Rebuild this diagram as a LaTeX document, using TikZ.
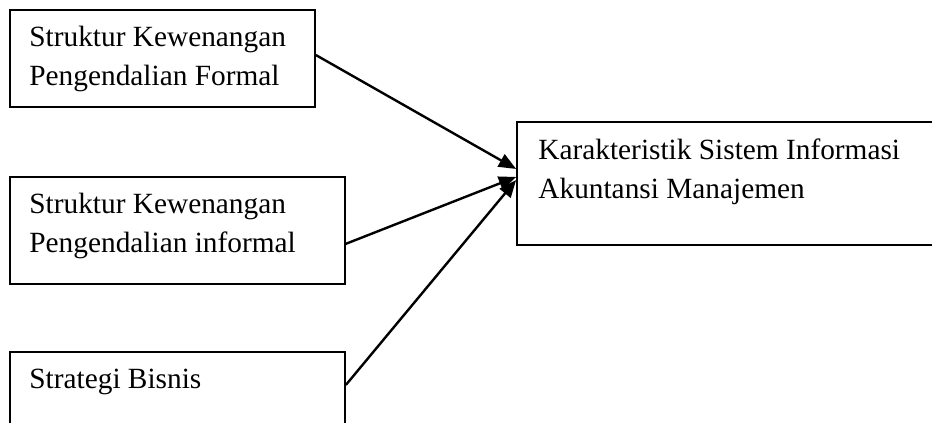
\documentclass[tikz,border=0pt]{standalone}
\usepackage{fontspec}
\setmainfont{Liberation Serif}
\usetikzlibrary{arrows.meta}

\tikzset{
  box/.style={draw, line width=1.3pt, inner sep=0pt},
  lbl/.style={anchor=base west, align=left, inner sep=0pt, font=\fontsize{22}{29.25}\selectfont},
  link/.style={line width=1.8pt, -{Triangle[length=13pt,width=10.5pt]}}
}

\begin{document}
\begin{tikzpicture}[x=0.75pt,y=0.75pt,yscale=-1,xscale=1]
\useasboundingbox (0,0) rectangle (932,423);
\clip (0,0) rectangle (932,423);

%Shape: Rectangle [formal]
\node [box, minimum width=228.75pt, minimum height=72.75pt] (formal) at (162.5,58.5) {};
%Shape: Rectangle [informal]
\node [box, minimum width=251.25pt, minimum height=80.25pt] (informal) at (177.5,230.5) {};
%Shape: Rectangle [bisnis]
\node [box, minimum width=251.25pt, minimum height=80.25pt] (bisnis) at (177.5,405.5) {};
%Shape: Rectangle [sistem]
\node [box, minimum width=332.25pt, minimum height=92.25pt] (sistem) at (738.5,183.5) {};

% Text Node (base = last line)
\node [lbl] (formalText) at ([xshift=15pt,yshift=57pt]formal.north west) {Struktur Kewenangan\\Pengendalian Formal};
% Text Node
\node [lbl] (informalText) at ([xshift=15pt,yshift=57pt]informal.north west) {Struktur Kewenangan\\Pengendalian informal};
% Text Node
\node [lbl] (bisnisText) at ([xshift=15pt,yshift=27.75pt]bisnis.north west) {Strategi Bisnis};
% Text Node
\node [lbl] (sistemText) at ([xshift=16.5pt,yshift=57.75pt]sistem.north west) {Karakteristik Sistem Informasi\\Akuntansi Manajemen};

%Straight Lines
\draw [link] ([yshift=-2.6pt]formal.east) -- ([yshift=-10.9pt]sistem.west);
\draw [link] ([yshift=10pt]informal.east) -- ([yshift=-4.9pt]sistem.west);
\draw [link] ([yshift=-15.4pt]bisnis.east) -- ([yshift=-2.6pt]sistem.west);

\end{tikzpicture}
\end{document}
